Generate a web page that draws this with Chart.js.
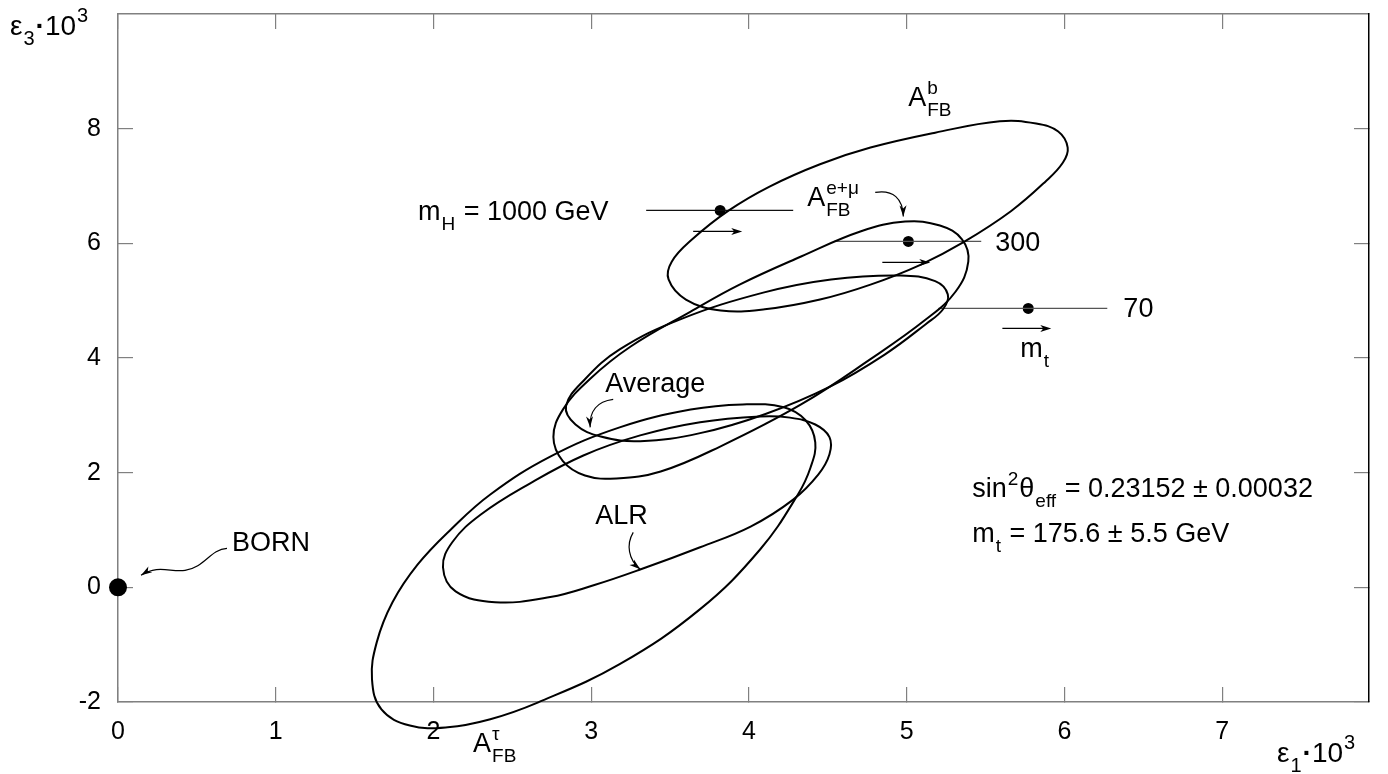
<!DOCTYPE html>
<html>
<head>
<meta charset="utf-8">
<script src="https://cdn.jsdelivr.net/npm/chart.js@4.4.1/dist/chart.umd.min.js"></script>
<style>
  html, body { margin: 0; padding: 0; background: #fff; }
  #wrap { width: 1388px; height: 774px; }
</style>
</head>
<body>
<div id="wrap"><canvas id="graficoEpsilon"></canvas></div>
<script>
// ---------- ticks ----------
const xTicks = [0, 1, 2, 3, 4, 5, 6, 7];
const yTicks = [-2, 0, 2, 4, 6, 8];

const afbB_x = [6.02, 5.96, 5.82, 5.59, 5.18, 4.77, 4.45, 4.13, 3.87, 3.64, 3.51, 3.49, 3.60, 3.82, 4.10, 4.45, 4.77, 5.09, 5.36, 5.66, 5.88, 5.99];
const afbB_y = [7.67, 7.95, 8.09, 8.13, 7.93, 7.67, 7.38, 6.99, 6.57, 6.07, 5.68, 5.37, 5.02, 4.83, 4.85, 5.02, 5.28, 5.63, 6.02, 6.56, 7.08, 7.41];

const emu_x = [5.39, 5.35, 5.21, 4.99, 4.71, 4.33, 3.94, 3.63, 3.25, 2.99, 2.82, 2.76, 2.82, 2.96, 3.16, 3.44, 3.82, 4.33, 4.77, 5.12, 5.31];
const emu_y = [5.68, 6.07, 6.31, 6.38, 6.21, 5.77, 5.28, 4.81, 4.20, 3.63, 3.10, 2.62, 2.20, 1.95, 1.90, 2.02, 2.46, 3.19, 3.98, 4.67, 5.16];

const media_x = [5.26, 5.18, 4.96, 4.52, 4.09, 3.56, 3.18, 2.96, 2.84, 2.90, 3.06, 3.31, 3.69, 4.10, 4.52, 4.86, 5.12, 5.23];
const media_y = [5.11, 5.34, 5.44, 5.37, 5.14, 4.67, 4.15, 3.63, 3.16, 2.84, 2.63, 2.55, 2.69, 3.02, 3.51, 4.06, 4.59, 4.85];

const alr_x = [4.51, 4.51, 4.42, 4.26, 4.07, 3.69, 3.31, 2.95, 2.61, 2.30, 2.12, 2.06, 2.14, 2.39, 2.74, 3.02, 3.31, 3.69, 4.01, 4.28, 4.44];
const alr_y = [2.32, 2.62, 2.84, 2.96, 2.98, 2.88, 2.65, 2.30, 1.81, 1.27, 0.79, 0.35, -0.07, -0.26, -0.17, 0.04, 0.31, 0.70, 1.06, 1.53, 1.97];

const tau_x = [4.42, 4.36, 4.22, 3.96, 3.63, 3.18, 2.74, 2.36, 2.11, 1.90, 1.74, 1.64, 1.61, 1.67, 1.85, 2.09, 2.36, 2.66, 3.18, 3.69, 4.07, 4.31, 4.39];
const tau_y = [2.53, 2.91, 3.14, 3.19, 3.10, 2.79, 2.28, 1.62, 1.01, 0.40, -0.26, -0.96, -1.60, -2.13, -2.41, -2.44, -2.30, -2.01, -1.34, -0.38, 0.66, 1.62, 2.09];

// ---------- pontos m_H e variação de m_t ----------
const higgsMassa = ["1000", "300", "70"];
const higgsX = [3.817, 5.010, 5.770];
const higgsY = [6.574, 6.033, 4.865];
const mtIni = [3.348, 4.540, 5.200];
const mtFim = [4.280, 5.472, 6.271];

const bornX = [0];
const bornY = [0];

const FONTE = '"Liberation Sans", Arial, Helvetica, sans-serif';

// fecha a curva: repete vizinhos para a tangente ficar certa e esconde as pontas
function elipse(xs, ys) {
  const n = xs.length;
  const pts = xs.map((x, i) => ({ x: x, y: ys[i] }));
  const dados = [pts[n - 1], ...pts, pts[0], pts[1]];
  return {
    data: dados,
    showLine: true,
    borderColor: "#000",
    borderWidth: 2,
    pointRadius: 0,
    tension: 0.4,
    fill: false,
    clip: false,
    segment: {
      borderColor: c => (c.p0DataIndex === 0 || c.p0DataIndex === dados.length - 2) ? "rgba(0,0,0,0)" : "#000"
    }
  };
}

const datasets = [
  elipse(afbB_x, afbB_y),
  elipse(emu_x, emu_y),
  elipse(media_x, media_y),
  elipse(alr_x, alr_y),
  elipse(tau_x, tau_y)
];

higgsX.forEach((hx, i) => {
  datasets.push({
    data: [{ x: mtIni[i], y: higgsY[i] }, { x: mtFim[i], y: higgsY[i] }],
    showLine: true,
    borderColor: i === 0 ? "#111" : "#555",
    borderWidth: 1.2,
    pointRadius: 0,
    clip: false
  });
});

datasets.push({
  data: higgsX.map((x, i) => ({ x: x, y: higgsY[i] })),
  pointRadius: 5.5,
  pointBackgroundColor: "#000",
  pointBorderWidth: 0
});

datasets.push({
  data: bornX.map((x, i) => ({ x: x, y: bornY[i] })),
  pointRadius: 9,
  pointBackgroundColor: "#000",
  pointBorderWidth: 0,
  clip: false
});

// ---------- anotações ----------
const rotulos = [
  { x: 1.902, y: 6.399, partes: [{ t: "m" }, { sub: "H" }, { t: " = " + higgsMassa[0] + " GeV" }] },
  { x: 5.561, y: 5.859, partes: [{ t: higgsMassa[1] }] },
  { x: 6.373, y: 4.708, partes: [{ t: higgsMassa[2] }] },
  { x: 5.720, y: 4.010, partes: [{ t: "m" }, { sub: "t" }] },
  { x: 5.009, y: 8.387, partes: [{ t: "A" }, { sup: "b", sub: "FB" }] },
  { x: 4.369, y: 6.643, partes: [{ t: "A" }, { sup: "e+μ", sub: "FB" }] },
  { x: 3.088, y: 3.400, partes: [{ t: "Average" }] },
  { x: 3.025, y: 1.099, partes: [{ t: "ALR" }] },
  { x: 0.723, y: 0.628, partes: [{ t: "BORN" }] },
  { x: 2.251, y: -2.877, partes: [{ t: "A" }, { sup: "τ", sub: "FB" }] },
  { x: 5.415, y: 1.569, partes: [{ t: "sin" }, { sup: "2" }, { t: "θ" }, { sub: "eff" }, { t: " = 0.23152 ± 0.00032" }] },
  { x: 5.415, y: 0.785, partes: [{ t: "m" }, { sub: "t" }, { t: " = 175.6 ± 5.5 GeV" }] }
];

// setas retas (direção de m_t)
const setasMt = [
  [3.646, 3.957, 6.207],
  [4.845, 5.149, 5.667],
  [5.606, 5.916, 4.516]
];

// setas curvas: início + trechos bezier (c1, c2, fim)
const setasCurvas = [
  [[0.691, 0.680], [0.583, 0.663, 0.552, 0.349, 0.425, 0.296], [0.330, 0.262, 0.254, 0.401, 0.146, 0.209]],
  [[4.800, 6.888], [4.914, 6.940, 4.975, 6.780, 4.978, 6.469]],
  [[3.139, 3.278], [3.037, 3.243, 2.987, 3.069, 2.993, 2.790]],
  [[3.266, 0.959], [3.221, 0.750, 3.234, 0.488, 3.310, 0.314]]
];

function textoRico(ctx, x, y, partes, tam) {
  const peq = Math.round(tam * 0.72);
  let cx = x;
  ctx.textBaseline = "alphabetic";
  ctx.textAlign = "left";
  partes.forEach(p => {
    if (p.t !== undefined) {
      ctx.font = (p.negrito ? "bold " : "") + tam + "px " + FONTE;
      ctx.fillText(p.t, cx, y);
      cx += ctx.measureText(p.t).width;
    } else {
      ctx.font = peq + "px " + FONTE;
      let w = 0;
      if (p.sup) { ctx.fillText(p.sup, cx + 1, y - tam * 0.47); w = Math.max(w, ctx.measureText(p.sup).width); }
      if (p.sub) { ctx.fillText(p.sub, cx + 1, y + tam * 0.36); w = Math.max(w, ctx.measureText(p.sub).width); }
      cx += w + 2;
    }
  });
}

function ponta(ctx, x0, y0, x1, y1) {
  const a = Math.atan2(y1 - y0, x1 - x0);
  const c = Math.cos(a), s = Math.sin(a);
  ctx.beginPath();
  ctx.moveTo(x1, y1);
  ctx.lineTo(x1 - 11 * c + 3.5 * s, y1 - 11 * s - 3.5 * c);
  ctx.lineTo(x1 - 8 * c, y1 - 8 * s);
  ctx.lineTo(x1 - 11 * c - 3.5 * s, y1 - 11 * s + 3.5 * c);
  ctx.closePath();
  ctx.fill();
}

const anotacoes = {
  id: "anotacoes",
  afterDraw(chart) {
    const ctx = chart.ctx;
    const sx = chart.scales.x, sy = chart.scales.y;
    const X = v => sx.getPixelForValue(v);
    const Y = v => sy.getPixelForValue(v);
    const area = chart.chartArea;
    ctx.save();
    ctx.fillStyle = "#000";
    ctx.strokeStyle = "#000";
    ctx.lineWidth = 1.2;

    setasMt.forEach(([a, b, y]) => {
      ctx.beginPath();
      ctx.moveTo(X(a), Y(y));
      ctx.lineTo(X(b) - 6, Y(y));
      ctx.stroke();
      ponta(ctx, X(a), Y(y), X(b), Y(y));
    });

    setasCurvas.forEach(sc => {
      ctx.beginPath();
      ctx.moveTo(X(sc[0][0]), Y(sc[0][1]));
      let ult = null;
      for (let k = 1; k < sc.length; k++) {
        const t = sc[k];
        ctx.bezierCurveTo(X(t[0]), Y(t[1]), X(t[2]), Y(t[3]), X(t[4]), Y(t[5]));
        ult = t;
      }
      ctx.stroke();
      ponta(ctx, X(ult[2]), Y(ult[3]), X(ult[4]), Y(ult[5]));
    });

    rotulos.forEach(r => textoRico(ctx, X(r.x), Y(r.y), r.partes, 27));

    // títulos dos eixos
    textoRico(ctx, area.left - 108, area.top + 21, [{ t: "ε" }, { sub: "3" }, { t: "·", negrito: true }, { t: "10" }, { sup: "3" }], 28);
    textoRico(ctx, area.right - 92, area.bottom + 60, [{ t: "ε" }, { sub: "1" }, { t: "·", negrito: true }, { t: "10" }, { sup: "3" }], 28);
    ctx.restore();
  }
};

// zera o padding automático que o Chart.js põe nas pontas dos eixos
const semPadding = s => { s.paddingTop = 0; s.paddingBottom = 0; s.paddingLeft = 0; s.paddingRight = 0; };

const eixoBase = (min, max, valores) => ({
  type: "linear",
  min: min,
  max: max,
  afterBuildTicks: s => { s.ticks = valores.map(v => ({ value: v })); },
  grid: { drawOnChartArea: false, drawTicks: true, tickLength: -15, color: "#808080", lineWidth: 1.2 }
});

new Chart(document.getElementById("graficoEpsilon").getContext("2d"), {
  type: "scatter",
  data: { datasets: datasets },
  options: {
    responsive: true,
    maintainAspectRatio: false,
    animation: false,
    events: [],
    layout: { padding: 0 },
    plugins: { legend: { display: false }, tooltip: { enabled: false } },
    scales: {
      x: Object.assign(eixoBase(0, 7.93, xTicks), {
        position: "bottom",
        ticks: { color: "#000", padding: 30, font: { family: FONTE, size: 25 } },
        border: { color: "#808080", width: 1.5 },
        afterFit: s => { semPadding(s); s.height = 72; }
      }),
      xTopo: Object.assign(eixoBase(0, 7.93, xTicks), {
        position: "top",
        ticks: { display: false },
        border: { color: "#808080", width: 1.5 },
        afterFit: s => { semPadding(s); s.height = 14; }
      }),
      y: Object.assign(eixoBase(-2, 10, yTicks), {
        position: "left",
        ticks: { color: "#000", padding: 32, font: { family: FONTE, size: 25 } },
        border: { color: "#808080", width: 1.5 },
        afterFit: s => { semPadding(s); s.width = 118; }
      }),
      yDir: Object.assign(eixoBase(-2, 10, yTicks), {
        position: "right",
        ticks: { display: false },
        border: { color: "#000", width: 1.5 },
        afterFit: s => { semPadding(s); s.width = 19; }
      })
    }
  },
  plugins: [anotacoes]
});
</script>
</body>
</html>
